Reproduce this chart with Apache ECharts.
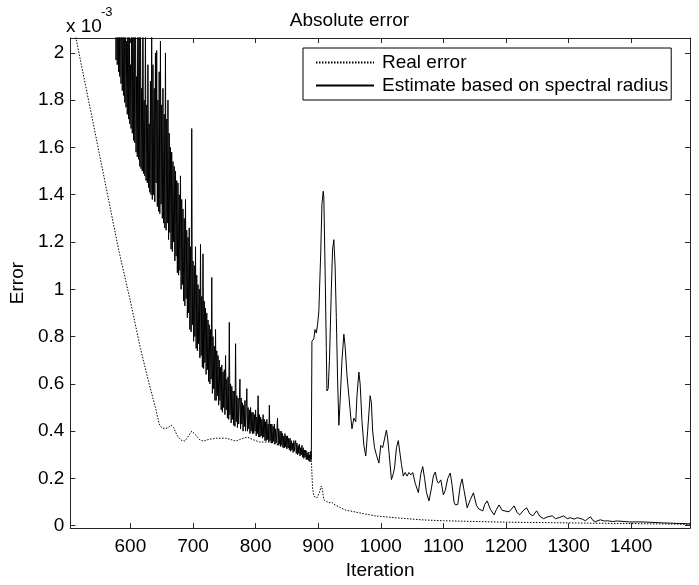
<!DOCTYPE html>
<html>
<head>
<meta charset="utf-8">
<script src="https://cdn.jsdelivr.net/npm/echarts@6/dist/echarts.min.js"></script>
<style>
html, body { margin: 0; padding: 0; background: #fff; }
#chart { width: 699px; height: 585px; }
</style>
</head>
<body>
<div id="chart"></div>
<script>
const FONT = '"Liberation Sans", Arial, Helvetica, sans-serif'

// tick labels
const xTicks = [600, 700, 800, 900, 1000, 1100, 1200, 1300, 1400]
const yTicks = [0, 0.2, 0.4, 0.6, 0.8, 1, 1.2, 1.4, 1.6, 1.8, 2]

// real error, [iteration, error x 1e-3]
const realError = [
  [504, 2.18], [540, 1.71], [581, 1.17], [600, 0.95], [616, 0.75], [630, 0.60],
  [640, 0.50], [646, 0.43], [650, 0.415], [655, 0.41], [660, 0.415], [665, 0.425],
  [669, 0.415], [675, 0.38], [681, 0.362], [687, 0.358], [693, 0.38], [698, 0.40],
  [704, 0.385], [710, 0.365], [716, 0.358], [725, 0.365], [737, 0.37], [752, 0.37],
  [760, 0.365], [768, 0.358], [778, 0.368], [787, 0.375], [795, 0.365], [806, 0.354],
  [822, 0.354], [843, 0.337], [863, 0.325], [880, 0.315], [887, 0.307], [889, 0.28],
  [891, 0.16], [893, 0.126], [898, 0.118], [902, 0.14], [905, 0.168], [907, 0.15],
  [909, 0.11], [917, 0.097], [921, 0.10], [924, 0.105], [927, 0.088], [943, 0.067],
  [965, 0.055], [990, 0.042], [1022, 0.034], [1065, 0.025], [1100, 0.021], [1150, 0.018],
  [1200, 0.015], [1300, 0.012], [1400, 0.009], [1494, 0.006]
]

// spectral radius estimate, noisy part: one value per iteration from 576 to 888
const estNoisyStart = 576
const estNoisy = [
  2.40, 1.97, 2.30, 1.95, 2.50, 1.92, 2.20, 1.90, 2.40, 1.87,
  2.35, 1.84, 2.10, 1.82, 2.45, 1.79, 2.25, 1.77, 2.05, 1.74,
  2.30, 1.72, 2.40, 1.70, 1.95, 1.68, 2.20, 1.66, 2.35, 1.63,
  2.10, 1.62, 2.30, 1.58, 1.90, 1.56, 2.40, 1.55, 2.15, 1.52,
  2.25, 1.51, 1.85, 1.50, 2.20, 1.49, 1.80, 1.48, 2.10, 1.46,
  1.78, 1.45, 1.95, 1.43, 1.70, 1.41, 1.88, 1.40, 2.10, 1.38,
  1.95, 1.40, 1.85, 1.37, 2.00, 1.45, 2.01, 1.35, 1.80, 1.33,
  1.92, 1.32, 2.05, 1.36, 1.78, 1.30, 1.85, 1.28, 1.74, 1.26,
  2.00, 1.25, 1.72, 1.28, 1.80, 1.21, 1.66, 1.24, 1.60, 1.17,
  1.58, 1.16, 1.54, 1.20, 1.52, 1.12, 1.50, 1.14, 1.46, 1.07,
  1.45, 1.06, 1.40, 1.08, 1.48, 1.00, 1.38, 1.02, 1.34, 0.95,
  1.30, 0.93, 1.38, 0.96, 1.25, 0.88, 1.22, 0.90, 1.26, 0.83,
  1.18, 0.82, 1.68, 0.85, 1.12, 0.78, 1.10, 0.80, 1.18, 0.75,
  1.06, 0.74, 1.02, 0.77, 1.00, 0.71, 1.19, 0.72, 0.97, 0.67,
  1.15, 0.665, 0.95, 0.69, 0.92, 0.64, 0.90, 0.66, 0.87, 0.61,
  0.85, 0.60, 0.83, 0.62, 1.05, 0.56, 0.80, 0.58, 0.76, 0.53,
  0.83, 0.53, 0.74, 0.55, 0.72, 0.51, 0.70, 0.53, 0.67, 0.49,
  0.68, 0.48, 0.65, 0.50, 0.66, 0.47, 0.72, 0.49, 0.62, 0.455,
  0.63, 0.45, 0.86, 0.47, 0.60, 0.435, 0.59, 0.45, 0.57, 0.425,
  0.57, 0.42, 0.77, 0.44, 0.55, 0.415, 0.54, 0.43, 0.52, 0.62,
  0.41, 0.54, 0.43, 0.52, 0.40, 0.51, 0.42, 0.53, 0.40, 0.50,
  0.58, 0.40, 0.50, 0.41, 0.49, 0.39, 0.50, 0.40, 0.48, 0.39,
  0.48, 0.39, 0.47, 0.40, 0.49, 0.38, 0.46, 0.39, 0.55, 0.375,
  0.47, 0.375, 0.46, 0.38, 0.45, 0.37, 0.47, 0.375, 0.45, 0.36,
  0.44, 0.36, 0.45, 0.365, 0.43, 0.355, 0.51, 0.36, 0.43, 0.35,
  0.43, 0.35, 0.42, 0.355, 0.43, 0.345, 0.41, 0.35, 0.40, 0.455,
  0.34, 0.41, 0.345, 0.40, 0.335, 0.40, 0.34, 0.39, 0.33, 0.38,
  0.33, 0.39, 0.335, 0.38, 0.325, 0.38, 0.33, 0.37, 0.32, 0.37,
  0.315, 0.36, 0.32, 0.35, 0.31, 0.36, 0.315, 0.35, 0.36, 0.305,
  0.35, 0.30, 0.34, 0.305, 0.345, 0.295, 0.33, 0.30, 0.34, 0.29,
  0.33, 0.285, 0.32, 0.29, 0.32, 0.28, 0.31, 0.28, 0.31, 0.275,
  0.30, 0.27, 0.315
]

// spectral radius estimate after the jump, [iteration, error x 1e-3]
const estTail = [
  [889, 0.28], [890, 0.78], [893, 0.79], [895, 0.83], [897, 0.815], [899, 0.85],
  [901, 0.905], [904, 1.15], [906, 1.36], [908, 1.415], [909, 1.39], [911, 1.09],
  [913, 0.75], [914, 0.57], [916, 0.58], [918, 0.70], [921, 1.00], [923, 1.17],
  [925, 1.21], [927, 1.10], [929, 0.88], [931, 0.62], [933, 0.425], [935, 0.526],
  [938, 0.70], [941, 0.81], [943, 0.76], [946, 0.636], [949, 0.55], [952, 0.46],
  [954, 0.41], [957, 0.455], [960, 0.44], [962, 0.55], [965, 0.65], [967, 0.60],
  [970, 0.44], [973, 0.34], [976, 0.295], [979, 0.40], [983, 0.55], [985, 0.52],
  [987, 0.40], [990, 0.33], [993, 0.30], [997, 0.265], [1000, 0.34], [1003, 0.33],
  [1005, 0.337], [1009, 0.405], [1011, 0.37], [1013, 0.315], [1017, 0.195], [1020, 0.22],
  [1022, 0.245], [1025, 0.33], [1028, 0.36], [1031, 0.30], [1033, 0.26], [1036, 0.21],
  [1039, 0.225], [1042, 0.21], [1045, 0.225], [1048, 0.215], [1051, 0.225], [1055, 0.18],
  [1060, 0.14], [1064, 0.22], [1067, 0.25], [1070, 0.20], [1073, 0.14], [1077, 0.105],
  [1081, 0.16], [1084, 0.21], [1087, 0.227], [1090, 0.19], [1092, 0.18], [1096, 0.194],
  [1100, 0.13], [1103, 0.15], [1107, 0.20], [1111, 0.223], [1114, 0.17], [1117, 0.10],
  [1119, 0.088], [1123, 0.09], [1127, 0.17], [1130, 0.198], [1133, 0.15], [1138, 0.076],
  [1143, 0.11], [1148, 0.139], [1153, 0.085], [1157, 0.07], [1163, 0.063], [1166, 0.09],
  [1170, 0.105], [1175, 0.07], [1181, 0.046], [1185, 0.07], [1189, 0.088], [1194, 0.065],
  [1197, 0.059], [1205, 0.059], [1213, 0.084], [1218, 0.055], [1222, 0.046], [1228, 0.065],
  [1233, 0.076], [1238, 0.05], [1243, 0.042], [1249, 0.063], [1254, 0.04], [1260, 0.03],
  [1267, 0.038], [1274, 0.042], [1279, 0.03], [1286, 0.035], [1292, 0.042], [1298, 0.03],
  [1303, 0.034], [1309, 0.028], [1314, 0.034], [1317, 0.038], [1322, 0.028], [1327, 0.021],
  [1331, 0.03], [1335, 0.038], [1339, 0.022], [1343, 0.017], [1347, 0.022], [1351, 0.025],
  [1357, 0.02], [1362, 0.021], [1370, 0.018], [1378, 0.02], [1398, 0.016], [1419, 0.016],
  [1451, 0.012], [1494, 0.008]
]

const estimate = estNoisy
  .map((v, i) => [estNoisyStart + i, v])
  .concat(estTail)

const axisColor = '#262626'
const textStyle = { color: '#000', fontFamily: FONT, fontSize: 19 }

const chart = echarts.init(document.getElementById('chart'))

function tickStyle(values) {
  return { show: true, inside: true, length: 5, lineStyle: { color: axisColor }, customValues: values }
}

function boxAxis(extra) {
  return Object.assign({
    type: 'value',
    axisLine: { show: true, onZero: false, lineStyle: { color: axisColor, width: 1 } },
    splitLine: { show: false },
  }, extra)
}

chart.setOption({
  animation: false,
  backgroundColor: '#fff',
  textStyle: { fontFamily: FONT },
  title: {
    text: 'Absolute error',
    left: 'center',
    top: 6,
    textStyle: { ...textStyle, fontWeight: 'normal' },
  },
  grid: { left: 66, right: 9, top: 38, bottom: 55 },
  legend: {
    orient: 'vertical',
    left: 303,
    top: 48,
    padding: [4, 3, 4, 12],
    itemWidth: 58,
    itemHeight: 10,
    itemGap: 2,
    borderColor: '#000',
    borderWidth: 1,
    backgroundColor: '#fff',
    itemStyle: { color: 'rgba(0,0,0,0)', borderColor: 'rgba(0,0,0,0)', borderWidth: 0, opacity: 0 },
    textStyle: { ...textStyle, lineHeight: 21, padding: [0, 0, 0, 3] },
    data: ['Real error', 'Estimate based on spectral radius'],
  },
  xAxis: [
    boxAxis({
      min: 504, max: 1494,
      name: 'Iteration',
      nameLocation: 'middle',
      nameGap: 30,
      nameTextStyle: textStyle,
      axisTick: tickStyle(xTicks),
      axisLabel: { ...textStyle, margin: 9, customValues: xTicks, formatter: v => String(v) },
    }),
    boxAxis({
      min: 504, max: 1494, position: 'top',
      axisTick: tickStyle(xTicks),
      axisLabel: { show: false },
    }),
  ],
  yAxis: [
    boxAxis({
      min: -0.01, max: 2.063,
      name: 'Error',
      nameLocation: 'middle',
      nameGap: 42,
      nameTextStyle: textStyle,
      axisTick: tickStyle(yTicks),
      axisLabel: { ...textStyle, margin: 6, customValues: yTicks, formatter: v => String(+(+v).toFixed(1)) },
    }),
    boxAxis({
      min: -0.01, max: 2.063, position: 'right',
      axisTick: tickStyle(yTicks),
      axisLabel: { show: false },
    }),
  ],
  graphic: [
    { type: 'text', left: 66, top: 17, style: { text: 'x 10', fill: '#000', font: '19px ' + FONT } },
    { type: 'text', left: 101, top: 6, style: { text: '-3', fill: '#000', font: '13px ' + FONT } },
  ],
  series: [
    {
      name: 'Real error',
      type: 'line',
      data: realError,
      symbol: 'none',
      color: '#000',
      lineStyle: { color: '#000', width: 1, type: [1.5, 1.5] },
      clip: true,
      z: 2,
    },
    {
      name: 'Estimate based on spectral radius',
      type: 'line',
      data: estimate,
      symbol: 'none',
      color: '#000',
      lineStyle: { color: '#000', width: 1 },
      clip: true,
      z: 3,
    },
  ],
})
</script>
</body>
</html>
